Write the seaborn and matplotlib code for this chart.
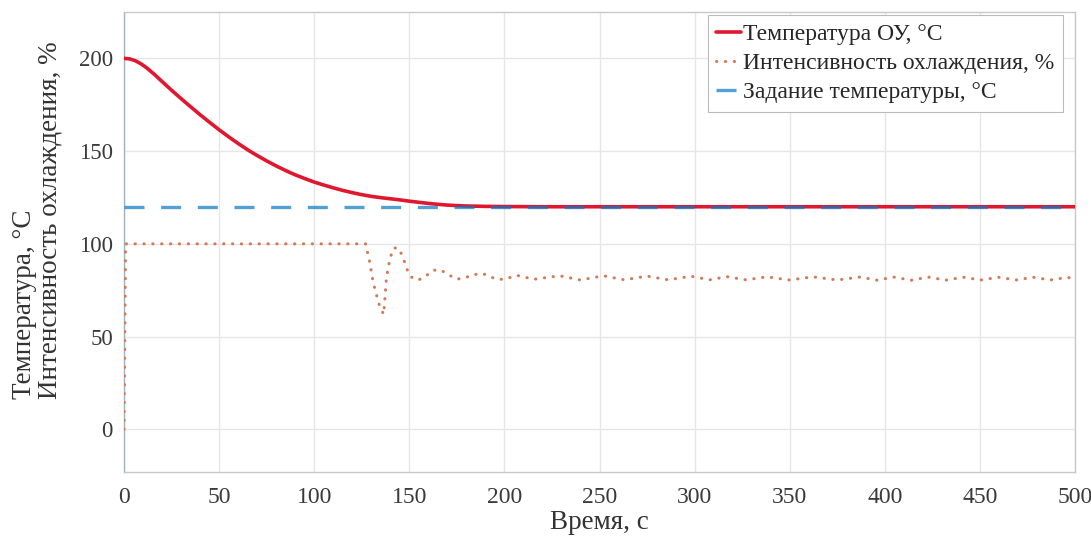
import numpy as np
import pandas as pd
import matplotlib
matplotlib.use("Agg")
import matplotlib.pyplot as plt
import seaborn as sns

# ---- data ----
temp_t = [0, 3, 6, 9, 12, 16, 20, 25, 30, 35, 40, 45, 50, 55, 60, 65, 70, 75, 80,
          85, 90, 95, 100, 105, 110, 115, 120, 125, 130, 135, 140, 145, 150, 155,
          160, 165, 170, 175, 180, 190, 200, 220, 300, 400, 500]
temp_v = [200, 199.7, 198.7, 197.0, 194.8, 191.3, 187.5, 182.8, 178.3, 173.9, 169.6,
          165.5, 161.5, 157.7, 154.1, 150.7, 147.6, 144.7, 142.0, 139.5, 137.2, 135.2,
          133.3, 131.7, 130.2, 128.8, 127.6, 126.5, 125.6, 124.9, 124.3, 123.7, 123.0,
          122.4, 121.8, 121.3, 120.9, 120.6, 120.4, 120.2, 120.1, 120, 120, 120, 120]

cool_t = [0, 0.8, 127, 129, 130.7, 132, 134.5, 136.5, 138, 139.8, 141.6, 143.5,
          145.4, 147.2, 148.9, 151.2, 154.7, 158.7, 162.6, 166.6, 170.6, 174.8,
          179.5, 183.7, 188.6, 193, 197.3, 202, 206.4, 210.8, 215.6, 229, 240,
          252, 263, 275, 286, 298, 308, 317, 327, 338, 350, 362, 375, 387, 396,
          404.5, 414, 422.8, 432, 441.3, 450.5, 459.7, 469, 478, 487, 496, 500]
cool_v = [0, 100, 100, 91, 81, 75, 66, 62, 82, 92, 97.5, 98,
          95.6, 91, 86, 82, 80.4, 82.7, 85.8, 85.8, 83.4, 80.9,
          81.8, 83.4, 84, 82, 80.7, 81.5, 83, 82, 80.9, 82.8, 80.5,
          82.8, 80.6, 82.6, 80.6, 82.5, 80.6, 82.3, 80.6, 82.2, 80.5, 82.2, 80.5, 82.1, 80.4,
          82.1, 80.4, 82.1, 80.4, 82.0, 80.5, 82.0, 80.5, 82.0, 80.5, 81.9, 81.2]

set_t = [0, 500]
set_v = [120, 120]

x_ticks = [0, 50, 100, 150, 200, 250, 300, 350, 400, 450, 500]
y_ticks = [0, 50, 100, 150, 200]

labels = ["Температура ОУ, °C", "Интенсивность охлаждения, %", "Задание температуры, °C"]
xlabel = "Время, с"
ylabel = "Температура, °C\nИнтенсивность охлаждения, %"

# ---- plot ----
sns.set_theme(style="whitegrid")
plt.rcParams['font.family'] = ['Liberation Serif', 'DejaVu Serif']

fig = plt.figure(figsize=(10.91, 5.45), dpi=100)
ax = fig.add_axes([0.1137, 0.134, 0.8716, 0.844])

df_temp = pd.DataFrame({"t": temp_t, "v": temp_v})
df_cool = pd.DataFrame({"t": cool_t, "v": cool_v})
df_set = pd.DataFrame({"t": set_t, "v": set_v})

sns.lineplot(data=df_cool, x="t", y="v", ax=ax, color="#d27b5c", lw=2.2,
             linestyle=(0, (0.1, 2.8)), dash_capstyle="round", label=labels[1], zorder=3)
sns.lineplot(data=df_temp, x="t", y="v", ax=ax, color="#e0182f", lw=2.6,
             label=labels[0], zorder=4)
sns.lineplot(data=df_set, x="t", y="v", ax=ax, color="#0a78c4", lw=2.4,
             linestyle=(0, (6.0, 5.0)), label=labels[2], zorder=5, alpha=0.7)

ax.set_xlim(0, 500)
ax.set_ylim(-23, 225)
ax.set_xticks(x_ticks)
ax.set_yticks(y_ticks)
ax.tick_params(axis="x", labelsize=17, colors="#3a3a3a", length=4, direction="in", pad=11)
ax.tick_params(axis="y", labelsize=16.5, colors="#3a3a3a", length=4, direction="in", pad=8)
ax.set_xlabel(xlabel, fontsize=19.5, color="#333333")
ax.xaxis.set_label_coords(0.5, -0.082)
ax.set_ylabel(ylabel, fontsize=19.5, color="#333333", linespacing=1.0,
              multialignment="left")
ax.yaxis.set_label_coords(-0.065, 0.548)
ax.grid(True, color="#e6e6e6", lw=1.0)
for s in ax.spines.values():
    s.set_visible(True)
    s.set_color("#c8c8c8")
    s.set_linewidth(1.0)
ax.spines["left"].set_color("#9fb3c0")

handles, labs = ax.get_legend_handles_labels()
order = [labs.index(l) for l in labels]
leg = ax.legend([handles[i] for i in order], [labs[i] for i in order],
                loc="upper right", fontsize=17, frameon=True, fancybox=False,
                edgecolor="#bbbbbb", framealpha=1.0, handlelength=1.05,
                handletextpad=0.1, borderpad=0.35, labelspacing=0.33,
                borderaxespad=0.0, bbox_to_anchor=(0.987, 0.9935))
leg.get_frame().set_linewidth(0.8)

fig.savefig("out.png", dpi=100)
